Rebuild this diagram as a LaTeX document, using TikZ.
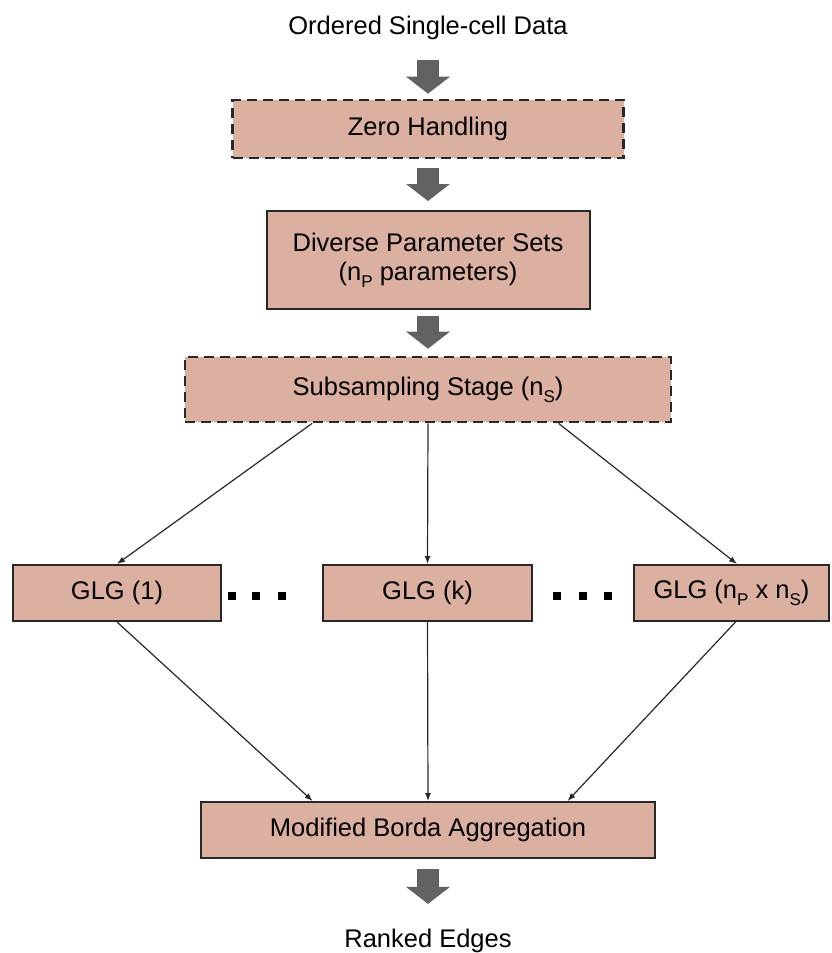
\documentclass[tikz,border=0pt]{standalone}
\usepackage{fontspec}
\setmainfont{Liberation Sans}
\usepackage{tikz}
\usetikzlibrary{arrows.meta, calc}
\definecolor{boxfill}{RGB}{220,176,160}
\definecolor{fatgray}{RGB}{98,98,98}
\definecolor{edgegray}{RGB}{40,40,40}
\newcommand{\lowsub}[1]{\raisebox{-0.28em}{\fontsize{17}{17}\selectfont #1}}

\begin{document}
\begin{tikzpicture}[x=1pt, y=-1pt,
            stage/.style={rectangle, draw=edgegray, line width=2pt, fill=boxfill, inner sep=0pt, align=center, font=\fontsize{25.5}{29}\selectfont},
            optstage/.style={stage, line width=2.6pt, dash pattern=on 10pt off 6pt},
            plain/.style={inner sep=0pt, font=\fontsize{25.5}{29}\selectfont},
            fat/.style={draw=fatgray, line width=22pt, -{Triangle[length=17pt, width=43pt]}},
            link/.style={draw=edgegray, line width=1.2pt, -{Latex[length=8pt, width=6pt]}},
            dot/.style={rectangle, fill=black, minimum size=8pt, inner sep=0pt}]
            \useasboundingbox (0,0) rectangle (831,953);
            % Pipeline stages
            \node[plain] (title) at (428,28) {Ordered Single-cell Data};
            \node[optstage, minimum width=391pt, minimum height=58pt] (zero) at (428,129) {Zero Handling};
            \node[stage, minimum width=323pt, minimum height=98pt] (param) at (428,260) {Diverse Parameter Sets\\(n\lowsub{P} parameters)};
            \node[optstage, minimum width=486pt, minimum height=65pt] (sub) at (428,389.5) {Subsampling Stage (n\lowsub{S})};
            
            \node[stage, minimum width=208pt, minimum height=56pt] (glg1) at (117,593) {GLG (1)};
            \node[stage, minimum width=209pt, minimum height=56pt] (glgk) at (427.5,593) {GLG (k)};
            \node[stage, minimum width=195pt, minimum height=56pt] (glgn) at (731.5,593) {GLG (n\lowsub{P} x n\lowsub{S})};
            \foreach \x in {232,256,282,557,583,608}
                \node[dot] (d\x) at (\x,596) {};
            
            \node[stage, minimum width=454pt, minimum height=56pt] (borda) at (428,830) {Modified Borda Aggregation};
            \node[plain] (ranked) at (428,941) {Ranked Edges};
            
            % Block arrows
            \draw[fat, shorten <=20pt, shorten >=5pt] (title) -- (zero);
            \draw[fat, shorten <=9pt, shorten >=9pt] (zero) -- (param);
            \draw[fat, shorten <=6pt, shorten >=7pt] (param) -- (sub);
            \draw[fat, shorten <=10pt, shorten >=25pt] (borda) -- (ranked);
            
            % Fan out and in
            \draw[link] ($(sub.south west)!0.263!(sub.south east)$) -- (glg1.north);
            \draw[link] (sub.south) -- (glgk.north);
            \draw[link] ($(sub.south west)!0.767!(sub.south east)$) -- ([xshift=5.5pt]glgn.north);
            \draw[link] (glg1.south) -- ($(borda.north west)!0.247!(borda.north east)$);
            \draw[link] (glgk.south) -- (borda.north);
            \draw[link] ([xshift=4pt]glgn.south) -- ($(borda.north west)!0.806!(borda.north east)$);
        \end{tikzpicture}
\end{document}
